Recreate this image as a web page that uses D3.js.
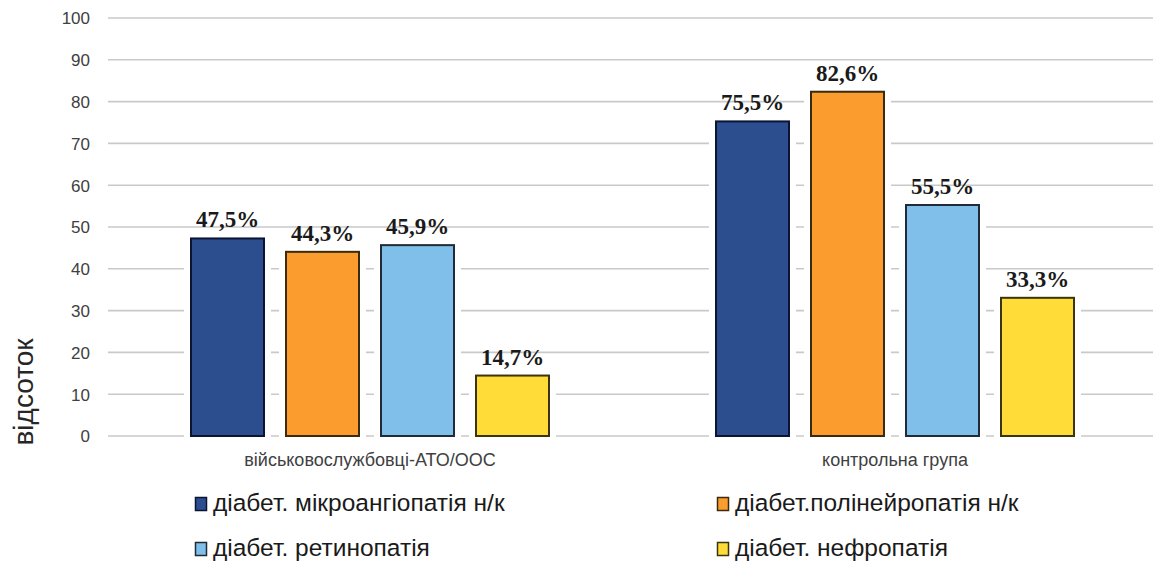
<!DOCTYPE html>
<html><head><meta charset="utf-8">
<script src="https://cdn.jsdelivr.net/npm/d3@7"></script>
<style>body{margin:0;background:#fff}svg{display:block}</style>
</head><body>
<svg id="c" width="1153" height="564"></svg>
<script>
const categories = ["військовослужбовці-АТО/ООС", "контрольна група"];
const seriesNames = ["діабет. мікроангіопатія н/к", "діабет.полінейропатія н/к", "діабет. ретинопатія", "діабет. нефропатія"];
const microangiopathy = [47.5, 75.5];
const polyneuropathy = [44.3, 82.6];
const retinopathy = [45.9, 55.5];
const nephropathy = [14.7, 33.3];
const labels = [["47,5%","75,5%"],["44,3%","82,6%"],["45,9%","55,5%"],["14,7%","33,3%"]];
const yTicks = [0,10,20,30,40,50,60,70,80,90,100];
const yTitle = "відсоток";

const seriesValues = [microangiopathy, polyneuropathy, retinopathy, nephropathy];
const fills = ["#2c4d8e", "#fa9c2e", "#80bfe9", "#ffdc38"];
const strokes = ["#0b1533", "#3a2a10", "#1f2b36", "#3a3410"];

const svg = d3.select("#c");
const y = d3.scaleLinear().domain([0,100]).range([436,18]);
const x0 = d3.scaleBand().domain(categories).range([107.5,1157.5]).padding(0);
const x1 = d3.scaleBand().domain(d3.range(4)).range([0,360]).paddingInner(20/95).paddingOuter(0);
const off = (x0.bandwidth()-360)/2;

// grid
svg.append("g").selectAll("line").data(yTicks).join("line")
  .attr("x1",108).attr("x2",1153)
  .attr("y1",d=>y(d)).attr("y2",d=>y(d))
  .attr("stroke","#c9c9c9").attr("stroke-width",1.6);

// y axis labels
const yAxis = d3.axisLeft(y).tickValues(yTicks).tickSize(0).tickPadding(0);
const ga = svg.append("g").attr("transform","translate(90,0)").call(yAxis);
ga.select(".domain").remove();
ga.selectAll("text").attr("font-family","'Liberation Sans', Arial, sans-serif")
  .attr("font-size",17).attr("fill","#404040").attr("dy","0.35em");

svg.append("text").attr("transform","translate(33,392) rotate(-90)")
  .attr("text-anchor","middle").attr("font-family","'Liberation Sans', Arial, sans-serif")
  .attr("font-size",28).attr("fill","#262626").text(yTitle);

// bars
const data = [];
seriesValues.forEach((vals,si)=>vals.forEach((v,ci)=>data.push({si,ci,v,label:labels[si][ci]})));
const bx = d=>x0(categories[d.ci])+off+x1(d.si);

svg.append("g").selectAll("rect").data(data).join("rect")
  .attr("x",bx).attr("y",d=>y(d.v)).attr("width",x1.bandwidth()).attr("height",d=>y(0)-y(d.v))
  .attr("fill","#fff").attr("stroke","#fff").attr("stroke-width",12);
svg.append("g").selectAll("rect").data(data).join("rect")
  .attr("x",d=>bx(d)+1).attr("y",d=>y(d.v)+1).attr("width",x1.bandwidth()-2).attr("height",d=>y(0)-y(d.v)-1)
  .attr("fill",d=>fills[d.si]).attr("stroke",d=>strokes[d.si]).attr("stroke-width",2);

svg.append("g").selectAll("text").data(data).join("text")
  .attr("x",d=>bx(d)+x1.bandwidth()/2).attr("y",d=>y(d.v)-10)
  .attr("text-anchor","middle").attr("font-family","'Liberation Serif','Times New Roman',serif")
  .attr("font-weight","bold").attr("font-size",23).attr("fill","#1a1a1a").text(d=>d.label);

// category labels
svg.append("g").selectAll("text").data(categories).join("text")
  .attr("x",d=>x0(d)+x0.bandwidth()/2).attr("y",466)
  .attr("text-anchor","middle").attr("font-family","'Liberation Sans', Arial, sans-serif")
  .attr("font-size",18).attr("fill","#404040").text(d=>d);

// legend
const legPos = [[195,497],[717,497],[195,542],[717,542]];
const lg = svg.append("g").selectAll("g").data(seriesNames).join("g")
  .attr("transform",(d,i)=>`translate(${legPos[i][0]},${legPos[i][1]})`);
lg.append("rect").attr("x",0.5).attr("y",0.5).attr("width",11).attr("height",13)
  .attr("fill",(d,i)=>fills[i]).attr("stroke",(d,i)=>strokes[i]).attr("stroke-width",1.5);
lg.append("text").attr("x",18).attr("y",14).attr("font-family","'Liberation Sans', Arial, sans-serif")
  .attr("font-size",24.5).attr("fill","#1a1a1a").text(d=>d);
</script>
</body></html>
